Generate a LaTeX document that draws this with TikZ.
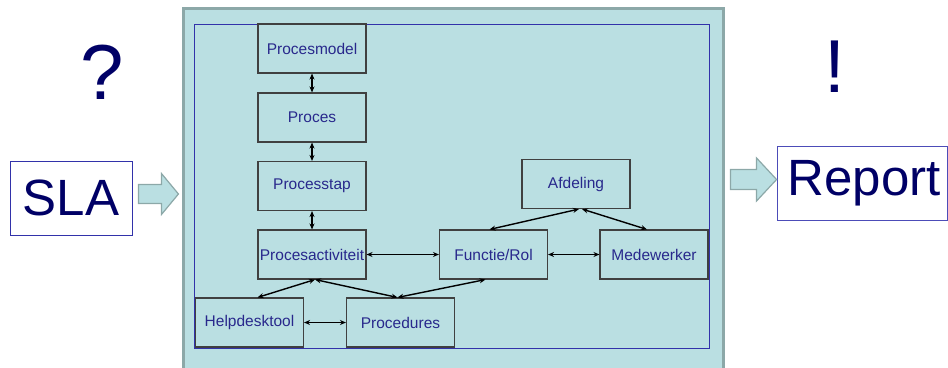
\documentclass[tikz,border=0pt]{standalone}
\usepackage{fontspec}
\setmainfont{Liberation Sans}
\usetikzlibrary{arrows.meta}
\definecolor{panelfill}{RGB}{186,223,226}
\definecolor{panelline}{RGB}{140,168,168}
\definecolor{boxtext}{RGB}{40,40,140}
\definecolor{navytext}{RGB}{0,0,102}
\definecolor{innerline}{RGB}{50,50,170}
\tikzset{
  entity/.style={draw=black!75, line width=1.1pt, minimum width=108pt, minimum height=49pt,
    inner sep=0pt, text=boxtext, font=\fontsize{15.5}{18}\selectfont},
  bigbox/.style={line width=0.9pt, minimum height=74pt, inner sep=0pt, text=navytext,
    font=\fontsize{51}{60}\selectfont},
  fatarrow/.style={fill=panelfill, draw=panelline, line width=1.2pt, line join=miter},
  link/.style={{Stealth[length=6pt,width=5pt]}-{Stealth[length=6pt,width=5pt]}, line width=1.4pt}
}
\begin{document}
\begin{tikzpicture}[x=1pt, y=-1pt]
      \useasboundingbox (0,0) rectangle (948,367);
      % panel
      \draw[fill=panelfill, draw=panelline, line width=3pt] (183,8) rectangle (723,375);
      \draw[innerline, line width=0.7pt] (194,24) rectangle (709,348);

      % Nodes
      \node[entity] at (312, 48.5) (model) {Procesmodel};
      \node[entity] at (312, 117.5) (proces) {Proces};
      \node[entity] at (312, 186) (stap) {Processtap};
      \node[entity] at (312, 254.5) (activ) {Procesactiviteit};
      \node[entity] at (249.5, 322.5) (tool) {Helpdesktool};
      \node[entity] at (400.5, 322.5) (proc) {Procedures};
      \node[entity] at (493.5, 254.5) (rol) {Functie/Rol};
      \node[entity] at (576, 184) (afd) {Afdeling};
      \node[entity] at (654, 254.5) (med) {Medewerker};

      \draw[link] (model) -- (proces);
      \draw[link] (proces) -- (stap);
      \draw[link] (stap) -- (activ);
      \draw[link] (activ) -- (rol);
      \draw[link] (rol) -- (med);
      \draw[link] (tool) -- (proc);
      \draw[link] ([xshift=3pt]activ.south) -- ([xshift=8pt]tool.north);
      \draw[link] ([xshift=3pt]activ.south) -- ([xshift=-3pt]proc.north);
      \draw[link] ([xshift=-3pt]proc.north) -- ([xshift=-8pt]rol.south);
      \draw[link] ([xshift=3pt]afd.south) -- ([xshift=-4pt]rol.north);
      \draw[link] ([xshift=6pt]afd.south) -- ([xshift=-7pt]med.north);

      % outside
      \node[anchor=base, text=navytext, font=\fontsize{78}{90}\selectfont] at (102,99) (ask) {?};
      \node[anchor=base, text=navytext, font=\fontsize{75}{90}\selectfont] at (835,92) (bang) {!};
      \node[bigbox, draw=innerline, minimum width=122pt] at (71,198) (sla) {SLA};
      \node[bigbox, draw=blue!60!black!70, minimum width=170pt] at (862,183) (report) {\hspace*{4pt}Report};

      \draw[fatarrow] ([xshift=6pt,yshift=4pt]sla.east) ++(0,-9.5) -- ++(23,0) -- ++(0,-11)
        -- ++(17,20.5) -- ++(-17,20.5) -- ++(0,-11) -- ++(-23,0) -- cycle;
      \draw[fatarrow] ([xshift=-46pt,yshift=3.5pt]report.west) ++(0,-10) -- ++(26,0) -- ++(0,-11.5)
        -- ++(20,21.5) -- ++(-20,21.5) -- ++(0,-11.5) -- ++(-26,0) -- cycle;
\end{tikzpicture}
\end{document}
